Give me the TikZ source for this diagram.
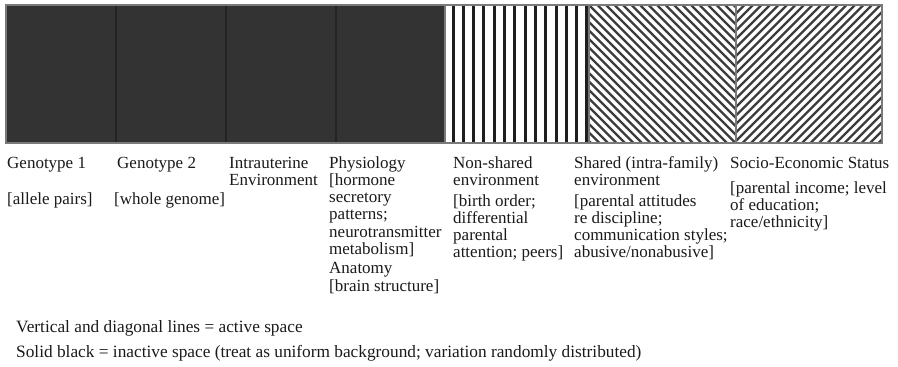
\documentclass[tikz,border=0pt]{standalone}
\usepackage{fontspec}
\setmainfont{Liberation Serif}
\definecolor{inkfill}{HTML}{333333}
\definecolor{inkedge}{HTML}{232323}
\definecolor{frame}{HTML}{7A7A7A}
\definecolor{stripe}{HTML}{1E1E1E}
\definecolor{hatch}{HTML}{3C3C3C}
\definecolor{txt}{HTML}{1A1A1A}
\begin{document}
\begin{tikzpicture}[x=1pt,y=-1pt,
  lbl/.style={anchor=north west, inner sep=0pt, align=left,
    font=\fontsize{17}{17.2}\selectfont, text=txt},
  legend/.style={anchor=base west, inner sep=0pt,
    font=\fontsize{17.3}{17.8}\selectfont, text=txt},
  solidcell/.style={fill=inkfill, draw=inkedge, line width=1.2pt},
  vstripe/.style={draw=stripe, line width=3pt},
  dstripe/.style={draw=hatch, line width=2.4pt},
  cellframe/.style={draw=frame, line width=1.4pt}]
\useasboundingbox (0,0) rectangle (898,367);

% inactive (solid) cells
\foreach \a/\b in {6/116,116/226,226/336,336/445}
  \draw[solidcell] (\a,5) rectangle (\b,143);

% non-shared environment: vertical lines
\begin{scope}
  \clip (445,5) rectangle (589,143);
  \foreach \k in {0,...,13}
    \draw[vstripe] (453+\k*10.3,5) -- (453+\k*10.3,143);
\end{scope}

% shared environment: falling diagonals
\begin{scope}
  \clip (589,5) rectangle (736,143);
  \foreach \k in {-18,...,18}
    \draw[dstripe] (589+\k*8.5,5) -- ++(138,138);
\end{scope}

% socio-economic status: rising diagonals
\begin{scope}
  \clip (736,5) rectangle (882,143);
  \foreach \k in {0,...,36}
    \draw[dstripe] (736+\k*8.5,5) -- ++(-138,138);
\end{scope}

% frames of the patterned cells and of the whole strip
\draw[cellframe] (445,5) rectangle (589,143);
\draw[cellframe] (589,5) rectangle (736,143);
\draw[cellframe] (736,5) rectangle (882,143);
\draw[cellframe] (6,5) rectangle (882,143);

% column labels (first baseline at y = 168; strut height 12.04)
\node[lbl] (geno1) at (7,156) {\strut Genotype 1\\[19pt]{[}allele pairs]};
\node[lbl] (geno2) at (114,156) {\strut\hspace*{3pt}Genotype 2\\[19pt]{[}whole genome]};
\node[lbl] (uterus) at (229,156) {\strut Intrauterine\\Environment};
\node[lbl] (physio) at (329,156) {\strut Physiology\\{[}hormone\\secretory\\patterns;\\neurotransmitter\\metabolism]\\[2.5pt]Anatomy\\{[}brain structure]};
\node[lbl] (nonshared) at (453,156) {\strut Non-shared\\environment\\[3.5pt]{[}birth order;\\differential\\parental\\attention; peers]};
\node[lbl] (shared) at (574,156) {\strut Shared (intra-family)\\environment\\[3.5pt]{[}parental attitudes\\re discipline;\\communication styles;\\abusive/nonabusive]};
\node[lbl] (ses) at (730,156) {\strut Socio-Economic Status\\[8pt]{[}parental income; level\\of education;\\race/ethnicity]};

% legend
\node[legend] (legactive) at (16,332) {Vertical and diagonal lines = active space};
\node[legend] (leginactive) at (16,357) {Solid black = inactive space (treat as uniform background; variation randomly distributed)};
\end{tikzpicture}
\end{document}
